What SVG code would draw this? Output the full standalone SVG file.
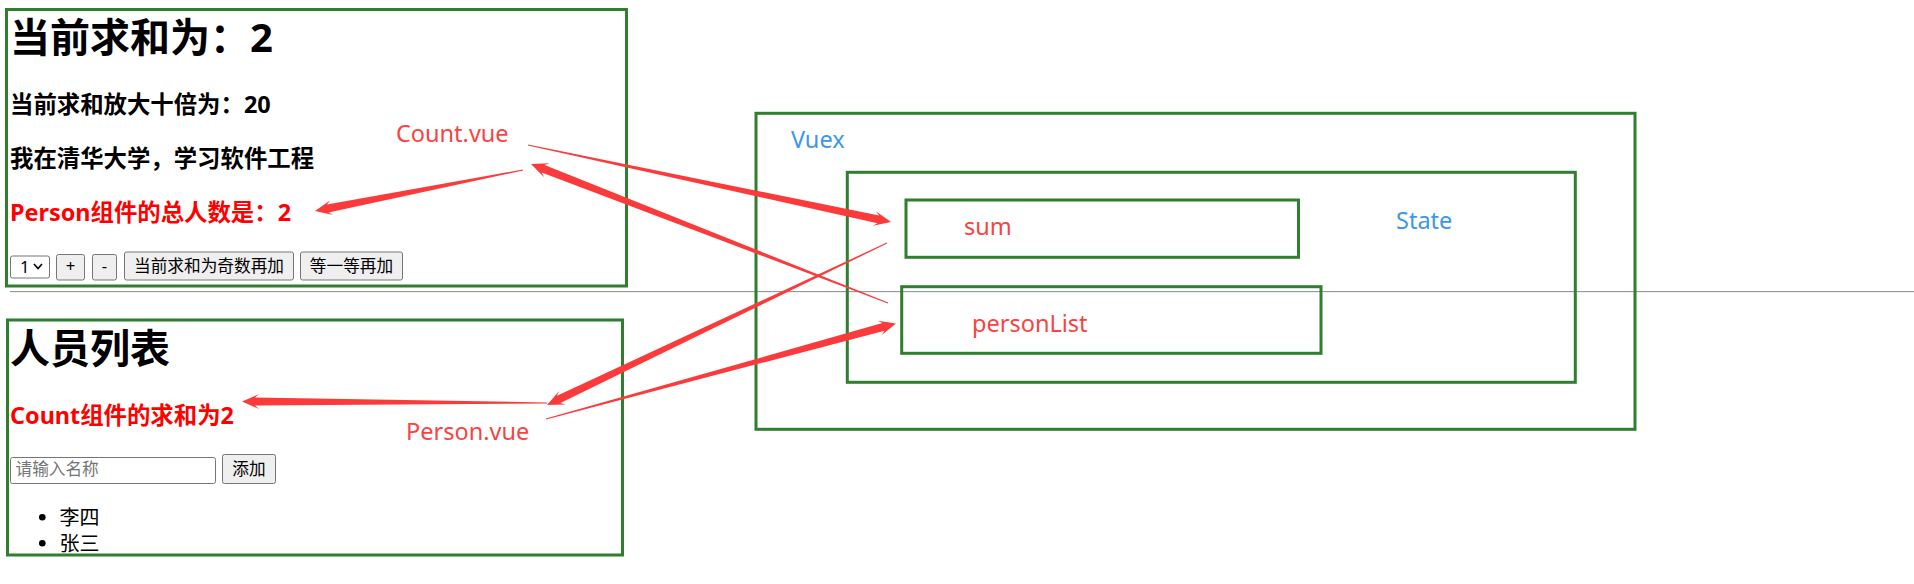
<svg xmlns="http://www.w3.org/2000/svg" width="1914" height="584" viewBox="0 0 1914 584">
<style>
.box{fill:none;stroke:#2f7f2f;stroke-width:3}
.h1{font-family:"Noto Sans","Noto Sans CJK SC",sans-serif;font-size:40px;font-weight:bold;fill:#000}
.h3{font-family:"Noto Sans","Noto Sans CJK SC",sans-serif;font-size:23.4px;font-weight:bold;fill:#000}
.red{fill:#ff0000}
.ctl{fill:#efefef;stroke:#767676;stroke-width:1}
.field{fill:#fff;stroke:#767676;stroke-width:1}
.btn{font-family:"Noto Sans","Noto Sans CJK SC",sans-serif;font-size:16.67px;fill:#000;text-anchor:middle}
.body{font-family:"Noto Sans","Noto Sans CJK SC",sans-serif;font-size:20px;fill:#000}
.note{font-family:"Noto Sans","Noto Sans CJK SC",sans-serif;font-size:23.5px}
.nred{fill:#f94343}
.nblue{fill:#3e97e6}
.arrow{fill:#fb3b3b}
</style>
<rect width="1914" height="584" fill="#fff"/>
<g id="hr">
<line x1="10" y1="291.5" x2="1914" y2="291.5" stroke="#9a9a9a" stroke-width="1"/>
<line x1="10" y1="292.5" x2="1914" y2="292.5" stroke="#eeeeee" stroke-width="1"/>
</g>
<g id="count-component">
<rect class="box" x="6.5" y="9.5" width="620" height="276.5"/>
<text class="h1" x="10" y="52">当前求和为：2</text>
<text class="h3" x="10" y="112.5">当前求和放大十倍为：20</text>
<text class="h3" x="10" y="166.5">我在清华大学，学习软件工程</text>
<text class="h3 red" x="10" y="220.5">Person组件的总人数是：2</text>
<rect class="field" x="10.5" y="256" width="39" height="22" rx="2"/>
<text class="btn" x="20" y="273" style="text-anchor:start">1</text>
<polyline points="34,264 38,268.5 42,264" fill="none" stroke="#000" stroke-width="1.6"/>
<rect class="ctl" x="56.5" y="254.5" width="28" height="25.5" rx="2"/>
<text class="btn" x="70.5" y="272">+</text>
<rect class="ctl" x="92.5" y="254.5" width="24" height="25.5" rx="2"/>
<text class="btn" x="104.5" y="272">-</text>
<rect class="ctl" x="124.5" y="252" width="169" height="28" rx="2"/>
<text class="btn" x="209" y="272">当前求和为奇数再加</text>
<rect class="ctl" x="300.5" y="252" width="102" height="28" rx="2"/>
<text class="btn" x="351.5" y="272">等一等再加</text>
</g>
<g id="person-component">
<rect class="box" x="7.5" y="320" width="615" height="235"/>
<text class="h1" x="10" y="363">人员列表</text>
<text class="h3 red" x="10" y="423.5">Count组件的求和为2</text>
<rect class="field" x="10.5" y="457.5" width="205" height="26" rx="2"/>
<text class="btn" x="15.5" y="475" style="text-anchor:start;fill:#757575">请输入名称</text>
<rect class="ctl" x="222.5" y="454.5" width="53" height="29" rx="2"/>
<text class="btn" x="249" y="475">添加</text>
<circle cx="42.3" cy="517.3" r="3.3" fill="#000"/>
<text class="body" x="59.5" y="525">李四</text>
<circle cx="42.3" cy="543.3" r="3.3" fill="#000"/>
<text class="body" x="59.5" y="551">张三</text>
</g>
<g id="vuex">
<rect class="box" x="756" y="113.3" width="879" height="316"/>
<text class="note nblue" x="791" y="148">Vuex</text>
</g>
<g id="state">
<rect class="box" x="847.3" y="172.3" width="728" height="210"/>
<text class="note nblue" x="1396" y="229">State</text>
</g>
<g id="sum">
<rect class="box" x="906" y="200" width="392.5" height="57.3"/>
<text class="note nred" x="964" y="235">sum</text>
</g>
<g id="personList">
<rect class="box" x="901.7" y="286.7" width="419.3" height="66.6"/>
<text class="note nred" x="972" y="332">personList</text>
</g>
<g id="labels">
<text class="note nred" x="396" y="142">Count.vue</text>
<text class="note nred" x="406" y="440">Person.vue</text>
</g>
<g id="connectors">
<polygon class="arrow" points="528.10,144.51 879.11,215.39 875.93,211.13 891,222 872.81,225.81 877.45,223.21 527.90,145.49"/>
<polygon class="arrow" points="888.18,302.53 544.56,164.99 549.56,163.18 531,164 544.12,177.16 541.66,172.45 887.82,303.47"/>
<polygon class="arrow" points="522.90,169.51 326.98,204.57 330.23,200.35 315,211 333.13,215.07 328.52,212.41 523.10,170.49"/>
<polygon class="arrow" points="886.78,242.55 557.02,395.80 559.12,390.92 547,405 565.58,404.46 560.46,403.02 887.22,243.45"/>
<polygon class="arrow" points="547,402.5 255.02,397.56 259.04,394.08 242,401.5 258.96,409.08 254.98,405.56 547,403.5"/>
<polygon class="arrow" points="545.87,418.52 882.41,323.06 877.63,320.74 896,323.5 881.57,335.21 884.51,330.78 546.13,419.48"/>
</g>
</svg>
